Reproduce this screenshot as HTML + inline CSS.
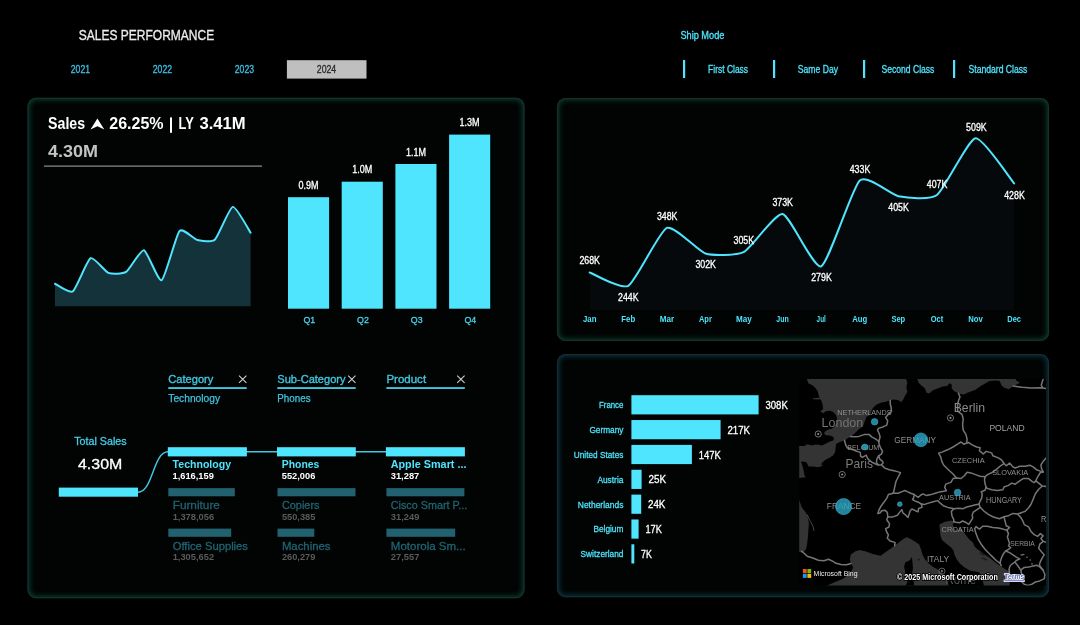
<!DOCTYPE html>
<html lang="en"><head><meta charset="utf-8"><title>Sales Performance</title>
<style>
html,body{margin:0;padding:0;background:#000;}
body{width:1080px;height:625px;position:relative;overflow:hidden;font-family:"Liberation Sans", sans-serif;}
svg{position:absolute;left:0;top:0;will-change:transform;}
svg text{font-family:"Liberation Sans", sans-serif;}
</style></head><body>
<svg width="1080" height="625" viewBox="0 0 1080 625">
<defs><filter id="gl" x="-5%" y="-5%" width="110%" height="110%"><feGaussianBlur stdDeviation="2.4"/></filter>
<clipPath id="cp1"><rect x="27.5" y="97.8" width="497" height="500.4" rx="8.5"/></clipPath>
<clipPath id="cp2"><rect x="557" y="98" width="492" height="243" rx="8.5"/></clipPath>
<clipPath id="cp3"><rect x="557" y="354" width="492" height="243.2" rx="8.5"/></clipPath>
</defs>
<g id="p1"><rect x="27.5" y="97.8" width="497" height="500.4" rx="8.5" fill="#010403"/>
<g clip-path="url(#cp1)"><rect x="27.5" y="97.8" width="497" height="500.4" rx="8.5" fill="none" stroke="#10382f" stroke-width="5" filter="url(#gl)"/></g>
<rect x="28.0" y="98.3" width="496" height="499.4" rx="8" fill="none" stroke="#11372f" stroke-width="1.2" stroke-opacity="0.75"/></g>
<g id="p2"><rect x="557" y="98" width="492" height="243" rx="8.5" fill="#010403"/>
<g clip-path="url(#cp2)"><rect x="557" y="98" width="492" height="243" rx="8.5" fill="none" stroke="#10382f" stroke-width="5" filter="url(#gl)"/></g>
<rect x="557.5" y="98.5" width="491" height="242" rx="8" fill="none" stroke="#11372f" stroke-width="1.2" stroke-opacity="0.75"/></g>
<g id="p3"><rect x="557" y="354" width="492" height="243.2" rx="8.5" fill="#010403"/>
<g clip-path="url(#cp3)"><rect x="557" y="354" width="492" height="243.2" rx="8.5" fill="none" stroke="#0e333c" stroke-width="5" filter="url(#gl)"/></g>
<rect x="557.5" y="354.5" width="491" height="242.2" rx="8" fill="none" stroke="#0f343d" stroke-width="1.2" stroke-opacity="0.75"/></g>
<g id="header">
<text x="78.8" y="40" font-size="14.2" fill="#ececec" textLength="135.4" lengthAdjust="spacingAndGlyphs" stroke="#ececec" stroke-width="0.3">SALES PERFORMANCE</text>
<text x="70.8" y="72.8" font-size="10.4" fill="#3cc2e6" textLength="19.2" lengthAdjust="spacingAndGlyphs" stroke="#3cc2e6" stroke-width="0.3">2021</text>
<text x="152.8" y="72.8" font-size="10.4" fill="#3cc2e6" textLength="19.2" lengthAdjust="spacingAndGlyphs" stroke="#3cc2e6" stroke-width="0.3">2022</text>
<text x="234.8" y="72.8" font-size="10.4" fill="#3cc2e6" textLength="19.2" lengthAdjust="spacingAndGlyphs" stroke="#3cc2e6" stroke-width="0.3">2023</text>
<rect x="286.90" y="60.20" width="79.60" height="18.40" fill="#bfbfbf"/>
<text x="316.8" y="72.8" font-size="10.4" fill="#2a2a2a" textLength="19.4" lengthAdjust="spacingAndGlyphs" stroke="#2a2a2a" stroke-width="0.3">2024</text>
<text x="680.4" y="38.8" font-size="10.2" fill="#4fe5ff" textLength="44" lengthAdjust="spacingAndGlyphs" stroke="#4fe5ff" stroke-width="0.3">Ship Mode</text>
<rect x="683.00" y="60.00" width="2.20" height="18.00" fill="#4fe5ff"/>
<text x="708.1" y="72.7" font-size="10.2" fill="#4fe5ff" textLength="40" lengthAdjust="spacingAndGlyphs" stroke="#4fe5ff" stroke-width="0.3">First Class</text>
<rect x="773.00" y="60.00" width="2.20" height="18.00" fill="#4fe5ff"/>
<text x="797.8" y="72.7" font-size="10.2" fill="#4fe5ff" textLength="40.3" lengthAdjust="spacingAndGlyphs" stroke="#4fe5ff" stroke-width="0.3">Same Day</text>
<rect x="863.00" y="60.00" width="2.20" height="18.00" fill="#4fe5ff"/>
<text x="881.5" y="72.7" font-size="10.2" fill="#4fe5ff" textLength="52.9" lengthAdjust="spacingAndGlyphs" stroke="#4fe5ff" stroke-width="0.3">Second Class</text>
<rect x="953.00" y="60.00" width="2.20" height="18.00" fill="#4fe5ff"/>
<text x="968.5" y="72.7" font-size="10.2" fill="#4fe5ff" textLength="58.9" lengthAdjust="spacingAndGlyphs" stroke="#4fe5ff" stroke-width="0.3">Standard Class</text>
</g>
<g id="kpi">
<text x="48.1" y="129.3" font-size="16.2" fill="#fff" font-weight="bold" textLength="37" lengthAdjust="spacingAndGlyphs">Sales</text>
<path d="M97.4,118.6 L104.3,129.4 L97.4,126.2 L90.5,129.4 Z" fill="#fff"/>
<text x="109.3" y="129.3" font-size="16.2" fill="#fff" font-weight="bold" textLength="54.3" lengthAdjust="spacingAndGlyphs">26.25%</text>
<rect x="170.00" y="117.40" width="2.00" height="15.40" fill="#fff"/>
<text x="178.5" y="129.3" font-size="16.2" fill="#fff" font-weight="bold" textLength="15.3" lengthAdjust="spacingAndGlyphs">LY</text>
<text x="199.5" y="129.3" font-size="16.2" fill="#fff" font-weight="bold" textLength="46.2" lengthAdjust="spacingAndGlyphs">3.41M</text>
<text x="48.1" y="156.6" font-size="16.6" fill="#c4c4c4" font-weight="bold" textLength="50" lengthAdjust="spacingAndGlyphs">4.30M</text>
<rect x="44.00" y="165.50" width="218.00" height="1.20" fill="#8f8f8f"/>
<path d="M55.00,283.73C56.69,284.46 69.40,293.81 72.78,291.39C76.16,288.96 87.18,259.98 90.56,258.22C93.94,256.47 104.96,271.59 108.34,272.89C111.72,274.19 122.74,274.09 126.12,271.94C129.50,269.78 140.52,249.46 143.90,250.25C147.28,251.04 158.30,282.04 161.68,280.23C165.06,278.41 176.08,234.93 179.46,231.12C182.84,227.30 193.86,239.26 197.24,240.05C200.62,240.83 211.64,242.56 215.02,239.41C218.40,236.26 229.42,207.52 232.80,206.88C236.18,206.24 248.89,230.26 250.58,232.71 L250.58,306.2 L55.00,306.2 Z" fill="#14323a"/>
<path d="M55.00,283.73C56.69,284.46 69.40,293.81 72.78,291.39C76.16,288.96 87.18,259.98 90.56,258.22C93.94,256.47 104.96,271.59 108.34,272.89C111.72,274.19 122.74,274.09 126.12,271.94C129.50,269.78 140.52,249.46 143.90,250.25C147.28,251.04 158.30,282.04 161.68,280.23C165.06,278.41 176.08,234.93 179.46,231.12C182.84,227.30 193.86,239.26 197.24,240.05C200.62,240.83 211.64,242.56 215.02,239.41C218.40,236.26 229.42,207.52 232.80,206.88C236.18,206.24 248.89,230.26 250.58,232.71" fill="none" stroke="#4fe5ff" stroke-width="2" stroke-linejoin="round" stroke-linecap="round"/>
</g>
<g id="qbars">
<rect x="288.00" y="197.20" width="41.10" height="111.50" fill="#4fe5ff"/>
<text x="308.5" y="188.79999999999998" font-size="10" fill="#fff" text-anchor="middle" textLength="20" lengthAdjust="spacingAndGlyphs" stroke="#fff" stroke-width="0.3">0.9M</text>
<text x="309.3" y="322.6" font-size="9.6" fill="#48d4ee" text-anchor="middle" textLength="11.8" lengthAdjust="spacingAndGlyphs" stroke="#48d4ee" stroke-width="0.3">Q1</text>
<rect x="341.70" y="181.70" width="41.10" height="127.00" fill="#4fe5ff"/>
<text x="362.2" y="173.29999999999998" font-size="10" fill="#fff" text-anchor="middle" textLength="20" lengthAdjust="spacingAndGlyphs" stroke="#fff" stroke-width="0.3">1.0M</text>
<text x="363.0" y="322.6" font-size="9.6" fill="#48d4ee" text-anchor="middle" textLength="11.8" lengthAdjust="spacingAndGlyphs" stroke="#48d4ee" stroke-width="0.3">Q2</text>
<rect x="395.40" y="164.00" width="41.10" height="144.70" fill="#4fe5ff"/>
<text x="415.9" y="155.6" font-size="10" fill="#fff" text-anchor="middle" textLength="20" lengthAdjust="spacingAndGlyphs" stroke="#fff" stroke-width="0.3">1.1M</text>
<text x="416.7" y="322.6" font-size="9.6" fill="#48d4ee" text-anchor="middle" textLength="11.8" lengthAdjust="spacingAndGlyphs" stroke="#48d4ee" stroke-width="0.3">Q3</text>
<rect x="449.10" y="134.60" width="41.10" height="174.10" fill="#4fe5ff"/>
<text x="469.6" y="126.19999999999999" font-size="10" fill="#fff" text-anchor="middle" textLength="20" lengthAdjust="spacingAndGlyphs" stroke="#fff" stroke-width="0.3">1.3M</text>
<text x="470.40000000000003" y="322.6" font-size="9.6" fill="#48d4ee" text-anchor="middle" textLength="11.8" lengthAdjust="spacingAndGlyphs" stroke="#48d4ee" stroke-width="0.3">Q4</text>
</g>
<g id="tree">
<text x="168.3" y="383.1" font-size="11.4" fill="#41c6e0" textLength="45" lengthAdjust="spacingAndGlyphs" stroke="#41c6e0" stroke-width="0.35">Category</text>
<path d="M239.0,375.7 l7.4,7.2 M246.4,375.7 l-7.4,7.2" stroke="#cfcfcf" stroke-width="1.1" fill="none"/>
<rect x="168.30" y="387.10" width="78.40" height="1.90" fill="#41c6e0"/>
<text x="168.3" y="401.9" font-size="10.5" fill="#41c6e0" textLength="51.7" lengthAdjust="spacingAndGlyphs" stroke="#41c6e0" stroke-width="0.25">Technology</text>
<text x="277.3" y="383.1" font-size="11.4" fill="#41c6e0" textLength="68.2" lengthAdjust="spacingAndGlyphs" stroke="#41c6e0" stroke-width="0.35">Sub-Category</text>
<path d="M348.1,375.7 l7.4,7.2 M355.5,375.7 l-7.4,7.2" stroke="#cfcfcf" stroke-width="1.1" fill="none"/>
<rect x="277.30" y="387.10" width="78.40" height="1.90" fill="#41c6e0"/>
<text x="277.3" y="401.9" font-size="10.5" fill="#41c6e0" textLength="33.3" lengthAdjust="spacingAndGlyphs" stroke="#41c6e0" stroke-width="0.25">Phones</text>
<text x="386.4" y="383.1" font-size="11.4" fill="#41c6e0" textLength="39.7" lengthAdjust="spacingAndGlyphs" stroke="#41c6e0" stroke-width="0.35">Product</text>
<path d="M457.2,375.7 l7.4,7.2 M464.6,375.7 l-7.4,7.2" stroke="#cfcfcf" stroke-width="1.1" fill="none"/>
<rect x="386.40" y="387.10" width="78.40" height="1.90" fill="#41c6e0"/>
<text x="74.2" y="445.2" font-size="11.5" fill="#45cdea" textLength="52.5" lengthAdjust="spacingAndGlyphs" stroke="#45cdea" stroke-width="0.3">Total Sales</text>
<text x="78" y="469.4" font-size="14.5" fill="#fff" textLength="44.3" lengthAdjust="spacingAndGlyphs" stroke="#fff" stroke-width="0.3">4.30M</text>
<rect x="58.80" y="487.60" width="79.20" height="9.10" fill="#4fe5ff"/>
<path d="M138,492.2 C153,492.2 153,451.7 168,451.7 L386,451.7" fill="none" stroke="#41c9e3" stroke-width="1.45"/>
<rect x="167.80" y="447.20" width="79.10" height="9.20" fill="#4fe5ff"/>
<text x="172.60000000000002" y="468.3" font-size="11" fill="#4fe5ff" font-weight="bold" textLength="58.5" lengthAdjust="spacingAndGlyphs">Technology</text>
<text x="172.60000000000002" y="479.2" font-size="8.5" fill="#fff" font-weight="bold" textLength="41.2" lengthAdjust="spacingAndGlyphs">1,616,159</text>
<rect x="168.30" y="488.10" width="66.50" height="8.20" fill="#22616f"/>
<text x="172.70000000000002" y="509.1" font-size="11" fill="#216371" textLength="47.2" lengthAdjust="spacingAndGlyphs" stroke="#216371" stroke-width="0.3">Furniture</text>
<text x="172.70000000000002" y="519.9" font-size="8.5" fill="#5a5a5a" font-weight="bold" textLength="41.4" lengthAdjust="spacingAndGlyphs">1,378,056</text>
<rect x="168.30" y="528.60" width="62.90" height="8.20" fill="#22616f"/>
<text x="172.70000000000002" y="549.6" font-size="11" fill="#216371" textLength="75.3" lengthAdjust="spacingAndGlyphs" stroke="#216371" stroke-width="0.3">Office Supplies</text>
<text x="172.70000000000002" y="560.4" font-size="8.5" fill="#5a5a5a" font-weight="bold" textLength="41.4" lengthAdjust="spacingAndGlyphs">1,305,652</text>
<rect x="277.00" y="447.20" width="78.80" height="9.20" fill="#4fe5ff"/>
<text x="281.8" y="468.3" font-size="11" fill="#4fe5ff" font-weight="bold" textLength="37.6" lengthAdjust="spacingAndGlyphs">Phones</text>
<text x="281.8" y="479.2" font-size="8.5" fill="#fff" font-weight="bold" textLength="33.5" lengthAdjust="spacingAndGlyphs">552,006</text>
<rect x="277.50" y="488.10" width="78.00" height="8.20" fill="#22616f"/>
<text x="281.9" y="509.1" font-size="11" fill="#216371" textLength="37.6" lengthAdjust="spacingAndGlyphs" stroke="#216371" stroke-width="0.3">Copiers</text>
<text x="281.9" y="519.9" font-size="8.5" fill="#5a5a5a" font-weight="bold" textLength="33.5" lengthAdjust="spacingAndGlyphs">550,385</text>
<rect x="277.50" y="528.60" width="36.80" height="8.20" fill="#22616f"/>
<text x="281.9" y="549.6" font-size="11" fill="#216371" textLength="48.6" lengthAdjust="spacingAndGlyphs" stroke="#216371" stroke-width="0.3">Machines</text>
<text x="281.9" y="560.4" font-size="8.5" fill="#5a5a5a" font-weight="bold" textLength="33.5" lengthAdjust="spacingAndGlyphs">260,279</text>
<rect x="385.90" y="447.20" width="79.00" height="9.20" fill="#4fe5ff"/>
<text x="390.7" y="468.3" font-size="11" fill="#4fe5ff" font-weight="bold" textLength="75.8" lengthAdjust="spacingAndGlyphs">Apple Smart ...</text>
<text x="390.7" y="479.2" font-size="8.5" fill="#fff" font-weight="bold" textLength="28.6" lengthAdjust="spacingAndGlyphs">31,287</text>
<rect x="386.40" y="488.10" width="78.00" height="8.20" fill="#22616f"/>
<text x="390.79999999999995" y="509.1" font-size="11" fill="#216371" textLength="76.5" lengthAdjust="spacingAndGlyphs" stroke="#216371" stroke-width="0.3">Cisco Smart P...</text>
<text x="390.79999999999995" y="519.9" font-size="8.5" fill="#5a5a5a" font-weight="bold" textLength="28.6" lengthAdjust="spacingAndGlyphs">31,249</text>
<rect x="386.40" y="528.60" width="68.80" height="8.20" fill="#22616f"/>
<text x="390.79999999999995" y="549.6" font-size="11" fill="#216371" textLength="74.9" lengthAdjust="spacingAndGlyphs" stroke="#216371" stroke-width="0.3">Motorola Sm...</text>
<text x="390.79999999999995" y="560.4" font-size="8.5" fill="#5a5a5a" font-weight="bold" textLength="28.6" lengthAdjust="spacingAndGlyphs">27,557</text>
</g>
<g id="monthly">
<path d="M589.70,272.43C593.37,273.70 620.95,290.02 628.28,285.79C635.61,281.56 659.53,230.97 666.86,227.90C674.19,224.84 698.11,251.23 705.44,253.51C712.77,255.78 736.69,255.59 744.02,251.84C751.35,248.08 775.27,212.61 782.60,213.99C789.93,215.36 813.85,269.48 821.18,266.31C828.51,263.14 852.43,187.25 859.76,180.59C867.09,173.93 891.01,194.80 898.34,196.18C905.67,197.55 929.59,200.56 936.92,195.06C944.25,189.56 968.17,139.40 975.50,138.29C982.83,137.18 1010.41,179.09 1014.08,183.38 L1014.08,310 L589.70,310 Z" fill="#05090b"/>
<path d="M589.70,272.43C593.37,273.70 620.95,290.02 628.28,285.79C635.61,281.56 659.53,230.97 666.86,227.90C674.19,224.84 698.11,251.23 705.44,253.51C712.77,255.78 736.69,255.59 744.02,251.84C751.35,248.08 775.27,212.61 782.60,213.99C789.93,215.36 813.85,269.48 821.18,266.31C828.51,263.14 852.43,187.25 859.76,180.59C867.09,173.93 891.01,194.80 898.34,196.18C905.67,197.55 929.59,200.56 936.92,195.06C944.25,189.56 968.17,139.40 975.50,138.29C982.83,137.18 1010.41,179.09 1014.08,183.38" fill="none" stroke="#4fe5ff" stroke-width="2" stroke-linejoin="round" stroke-linecap="round"/>
<text x="589.7" y="263.6" font-size="10" fill="#fff" text-anchor="middle" textLength="20.6" lengthAdjust="spacingAndGlyphs" stroke="#fff" stroke-width="0.3">268K</text>
<text x="628.3" y="300.6" font-size="10" fill="#fff" text-anchor="middle" textLength="20.6" lengthAdjust="spacingAndGlyphs" stroke="#fff" stroke-width="0.3">244K</text>
<text x="667.2" y="219.8" font-size="10" fill="#fff" text-anchor="middle" textLength="20.6" lengthAdjust="spacingAndGlyphs" stroke="#fff" stroke-width="0.3">348K</text>
<text x="705.7" y="267.7" font-size="10" fill="#fff" text-anchor="middle" textLength="20.6" lengthAdjust="spacingAndGlyphs" stroke="#fff" stroke-width="0.3">302K</text>
<text x="743.8" y="243.6" font-size="10" fill="#fff" text-anchor="middle" textLength="20.6" lengthAdjust="spacingAndGlyphs" stroke="#fff" stroke-width="0.3">305K</text>
<text x="782.7" y="205.9" font-size="10" fill="#fff" text-anchor="middle" textLength="20.6" lengthAdjust="spacingAndGlyphs" stroke="#fff" stroke-width="0.3">373K</text>
<text x="821.5" y="280.8" font-size="10" fill="#fff" text-anchor="middle" textLength="20.6" lengthAdjust="spacingAndGlyphs" stroke="#fff" stroke-width="0.3">279K</text>
<text x="860.0" y="172.6" font-size="10" fill="#fff" text-anchor="middle" textLength="20.6" lengthAdjust="spacingAndGlyphs" stroke="#fff" stroke-width="0.3">433K</text>
<text x="898.6" y="211.2" font-size="10" fill="#fff" text-anchor="middle" textLength="20.6" lengthAdjust="spacingAndGlyphs" stroke="#fff" stroke-width="0.3">405K</text>
<text x="937.1" y="187.8" font-size="10" fill="#fff" text-anchor="middle" textLength="20.6" lengthAdjust="spacingAndGlyphs" stroke="#fff" stroke-width="0.3">407K</text>
<text x="976.4" y="130.5" font-size="10" fill="#fff" text-anchor="middle" textLength="20.6" lengthAdjust="spacingAndGlyphs" stroke="#fff" stroke-width="0.3">509K</text>
<text x="1014.5" y="198.5" font-size="10" fill="#fff" text-anchor="middle" textLength="20.6" lengthAdjust="spacingAndGlyphs" stroke="#fff" stroke-width="0.3">428K</text>
<text x="589.7" y="322" font-size="9" fill="#4fe5ff" font-weight="bold" text-anchor="middle" textLength="13.5" lengthAdjust="spacingAndGlyphs">Jan</text>
<text x="628.3" y="322" font-size="9" fill="#4fe5ff" font-weight="bold" text-anchor="middle" textLength="13.9" lengthAdjust="spacingAndGlyphs">Feb</text>
<text x="666.9" y="322" font-size="9" fill="#4fe5ff" font-weight="bold" text-anchor="middle" textLength="14.3" lengthAdjust="spacingAndGlyphs">Mar</text>
<text x="705.4" y="322" font-size="9" fill="#4fe5ff" font-weight="bold" text-anchor="middle" textLength="12.9" lengthAdjust="spacingAndGlyphs">Apr</text>
<text x="744.0" y="322" font-size="9" fill="#4fe5ff" font-weight="bold" text-anchor="middle" textLength="15.8" lengthAdjust="spacingAndGlyphs">May</text>
<text x="782.6" y="322" font-size="9" fill="#4fe5ff" font-weight="bold" text-anchor="middle" textLength="12.5" lengthAdjust="spacingAndGlyphs">Jun</text>
<text x="821.2" y="322" font-size="9" fill="#4fe5ff" font-weight="bold" text-anchor="middle" textLength="9.2" lengthAdjust="spacingAndGlyphs">Jul</text>
<text x="859.8" y="322" font-size="9" fill="#4fe5ff" font-weight="bold" text-anchor="middle" textLength="15.0" lengthAdjust="spacingAndGlyphs">Aug</text>
<text x="898.3" y="322" font-size="9" fill="#4fe5ff" font-weight="bold" text-anchor="middle" textLength="13.8" lengthAdjust="spacingAndGlyphs">Sep</text>
<text x="936.9" y="322" font-size="9" fill="#4fe5ff" font-weight="bold" text-anchor="middle" textLength="12.5" lengthAdjust="spacingAndGlyphs">Oct</text>
<text x="975.5" y="322" font-size="9" fill="#4fe5ff" font-weight="bold" text-anchor="middle" textLength="14.6" lengthAdjust="spacingAndGlyphs">Nov</text>
<text x="1014.1" y="322" font-size="9" fill="#4fe5ff" font-weight="bold" text-anchor="middle" textLength="13.6" lengthAdjust="spacingAndGlyphs">Dec</text>
</g>
<g id="country">
<rect x="631.40" y="395.20" width="127.20" height="19.20" fill="#4fe5ff"/>
<text x="623.4" y="408.1" font-size="9.5" fill="#4fe5ff" text-anchor="end" textLength="24.4" lengthAdjust="spacingAndGlyphs" stroke="#4fe5ff" stroke-width="0.3">France</text>
<text x="765.4" y="408.8" font-size="11" fill="#fff" textLength="22.4" lengthAdjust="spacingAndGlyphs" stroke="#fff" stroke-width="0.3">308K</text>
<rect x="631.40" y="420.05" width="89.20" height="19.20" fill="#4fe5ff"/>
<text x="623.4" y="432.9" font-size="9.5" fill="#4fe5ff" text-anchor="end" textLength="34" lengthAdjust="spacingAndGlyphs" stroke="#4fe5ff" stroke-width="0.3">Germany</text>
<text x="727.4" y="433.7" font-size="11" fill="#fff" textLength="22.6" lengthAdjust="spacingAndGlyphs" stroke="#fff" stroke-width="0.3">217K</text>
<rect x="631.40" y="444.90" width="60.50" height="19.20" fill="#4fe5ff"/>
<text x="623.4" y="457.8" font-size="9.5" fill="#4fe5ff" text-anchor="end" textLength="49.6" lengthAdjust="spacingAndGlyphs" stroke="#4fe5ff" stroke-width="0.3">United States</text>
<text x="698.7" y="458.5" font-size="11" fill="#fff" textLength="22.2" lengthAdjust="spacingAndGlyphs" stroke="#fff" stroke-width="0.3">147K</text>
<rect x="631.40" y="469.75" width="10.20" height="19.20" fill="#4fe5ff"/>
<text x="623.4" y="482.6" font-size="9.5" fill="#4fe5ff" text-anchor="end" textLength="26" lengthAdjust="spacingAndGlyphs" stroke="#4fe5ff" stroke-width="0.3">Austria</text>
<text x="648.4" y="483.4" font-size="11" fill="#fff" textLength="17.6" lengthAdjust="spacingAndGlyphs" stroke="#fff" stroke-width="0.3">25K</text>
<rect x="631.40" y="494.60" width="9.80" height="19.20" fill="#4fe5ff"/>
<text x="623.4" y="507.5" font-size="9.5" fill="#4fe5ff" text-anchor="end" textLength="45.6" lengthAdjust="spacingAndGlyphs" stroke="#4fe5ff" stroke-width="0.3">Netherlands</text>
<text x="648.0" y="508.2" font-size="11" fill="#fff" textLength="17.4" lengthAdjust="spacingAndGlyphs" stroke="#fff" stroke-width="0.3">24K</text>
<rect x="631.40" y="519.45" width="7.20" height="19.20" fill="#4fe5ff"/>
<text x="623.4" y="532.4" font-size="9.5" fill="#4fe5ff" text-anchor="end" textLength="30" lengthAdjust="spacingAndGlyphs" stroke="#4fe5ff" stroke-width="0.3">Belgium</text>
<text x="645.4" y="533.1" font-size="11" fill="#fff" textLength="16.4" lengthAdjust="spacingAndGlyphs" stroke="#fff" stroke-width="0.3">17K</text>
<rect x="631.40" y="544.30" width="2.90" height="19.20" fill="#4fe5ff"/>
<text x="623.4" y="557.2" font-size="9.5" fill="#4fe5ff" text-anchor="end" textLength="42.8" lengthAdjust="spacingAndGlyphs" stroke="#4fe5ff" stroke-width="0.3">Switzerland</text>
<text x="641.1" y="557.9" font-size="11" fill="#fff" textLength="10.8" lengthAdjust="spacingAndGlyphs" stroke="#fff" stroke-width="0.3">7K</text>
</g>
<g id="map">
<clipPath id="mapclip"><rect x="799.2" y="379.0" width="246.79999999999995" height="206.39999999999998"/></clipPath>
<g clip-path="url(#mapclip)">
<rect x="799.2" y="379.0" width="246.79999999999995" height="206.39999999999998" fill="#000"/>
<path d="M806.6,378.0 L808.3,383.3 L812.8,385.5 L815.6,388.3 L817.8,391.7 L818.4,394.5 L819.6,397.8 L813.0,398.2 L813.0,399.2 L820.9,399.6 L822.3,403.4 L823.2,408.8 L820.4,411.6 L823.2,413.2 L826.0,411.2 L830.0,410.8 L833.2,412.0 L835.6,414.4 L836.8,417.6 L836.8,420.8 L835.6,424.0 L834.0,427.2 L831.6,428.8 L828.4,429.6 L825.2,431.2 L824.0,433.6 L826.0,435.2 L830.0,435.6 L832.8,436.8 L834.2,438.4 L833.2,440.4 L830.0,441.6 L826.0,443.6 L822.0,445.6 L818.8,444.8 L814.8,444.4 L812.4,445.6 L810.0,444.8 L806.0,444.4 L805.2,446.0 L798.0,446.0 L798.0,478.0 L806.0,477.2 L804.4,475.2 L804.0,472.0 L803.2,468.8 L802.4,465.6 L801.0,461.8 L802.0,461.6 L806.0,462.0 L807.2,463.6 L808.4,466.4 L813.2,466.4 L818.0,467.2 L822.4,466.0 L821.2,464.0 L823.6,461.2 L826.0,459.6 L830.0,457.6 L833.2,455.2 L835.2,452.0 L835.6,448.0 L836.0,444.0 L838.8,442.4 L844.5,440.3 L850.5,436.6 L854.6,433.5 L858.6,429.6 L863.1,425.9 L865.2,420.0 L866.5,416.8 L869.9,414.9 L872.4,409.0 L874.1,406.4 L877.5,403.9 L881.8,402.6 L886.0,401.7 L889.4,400.5 L893.4,399.5 L897.9,400.1 L901.3,402.3 L903.5,399.0 L905.2,395.6 L907.4,391.7 L906.3,387.2 L907.4,382.7 L905.8,378.0 Z" fill="#343434"/>
<path d="M917.0,378.0 L918.6,382.7 L922.0,386.1 L924.8,388.3 L926.5,392.8 L929.3,393.4 L932.6,390.6 L938.2,388.3 L942.7,386.6 L947.2,386.1 L949.4,383.3 L951.7,384.4 L951.7,388.3 L953.9,391.1 L957.3,392.8 L960.6,393.9 L964.0,394.5 L967.4,392.8 L975.2,390.0 L980.8,386.1 L986.4,382.7 L989.8,381.0 L995.4,380.5 L999.8,381.0 L1001.5,385.5 L1004.3,387.8 L1008.8,389.2 L1012.7,386.6 L1015.5,385.0 L1020.0,382.7 L1016.1,380.5 L1015.5,378.0 Z" fill="#343434"/>
<path d="M798.0,499.0 L799.4,500.4 L801.6,507.1 L805.0,511.6 L807.2,515.0 L808.9,522.8 L808.3,531.8 L807.6,540.0 L806.8,546.0 L805.8,549.5 L803.6,552.0 L801.2,552.2 L798.0,552.0 Z" fill="#343434"/>
<path d="M807.2,515.0 L810.6,521.7 L813.4,527.3 L813.9,530.6" fill="none" stroke="#555" stroke-width="0.8" stroke-linejoin="round" stroke-linecap="round"/>
<path d="M826.2,586.0 L835.2,582.1 L843.0,578.7 L848.6,574.8 L852.0,570.3 L853.1,567.0 L850.9,563.6 L849.8,559.1 L850.9,554.6 L855.4,551.3 L859.8,549.9 L863.2,550.7 L866.0,551.6 L872.7,554.1 L880.6,555.8 L885.0,552.4 L890.1,549.0 L894.6,545.7 L899.6,541.8 L904.1,538.4 L906.9,537.3 L910.8,539.0 L915.3,541.8 L919.2,544.6 L920.9,549.0 L922.5,554.6 L924.8,559.1 L928.7,563.6 L933.2,567.0 L937.7,569.2 L939.9,571.4 L944.4,574.8 L946.6,579.3 L948.9,586.0 Z" fill="#343434"/>
<path d="M911.9,556.9 L909.7,560.2 L905.2,562.5 L904.1,567.0 L905.2,571.4 L904.6,575.9 L906.9,579.3 L907.4,582.6 L905.2,586.0 L914.2,586.0 L913.6,580.4 L911.9,574.8 L913.0,568.1 L912.5,562.5 Z" fill="#000"/>
<circle cx="918.6" cy="559.7" r="0.9" fill="#111"/>
<path d="M939.4,524.6 L945.0,521.8 L951.7,520.6 L953.9,521.8 L952.8,525.1 L955.0,529.6 L958.4,530.7 L960.1,526.8 L964.0,532.4 L967.4,536.9 L969.6,539.7 L973.0,542.5 L974.6,546.4 L977.4,549.2 L980.8,551.4 L984.2,554.2 L988.6,557.0 L992.0,559.8 L996.5,563.2 L1001.0,566.6 L1005.4,569.2 L1008.6,571.2 L1009.6,573.5 L1009.6,586.0 L984.0,586.0 L982.5,580.0 L980.8,575.0 L979.1,572.2 L975.2,571.6 L969.6,570.5 L964.0,567.1 L960.1,563.8 L956.7,559.3 L954.5,554.8 L953.4,550.3 L950.6,547.0 L946.1,543.6 L942.2,540.2 L940.5,535.8 L939.9,530.2 Z" fill="#343434"/>
<path d="M979.5,551.5 l5,3 l0.6,1.6 l-4.6,-1.6 z M982,557 l5.4,2.6 l-0.8,1.2 l-5,-2.2 z" fill="#1c1c1c"/>
<path d="M890.2,400.4 L890.2,403.9 L891.1,407.3 L891.5,411.5 L887.7,414.9 L885.6,417.4 L887.7,420.8 L886.8,425.1 L883.5,426.7 L878.4,428.4 L877.5,430.1 L879.2,433.5 L880.1,436.9 L879.2,440.3 L878.8,442.8 L879.2,444.6 L880.9,448.5 L882.6,451.3 L881.4,454.1 L878.6,455.8" fill="none" stroke="#767676" stroke-width="1.5" stroke-linejoin="round" stroke-linecap="round"/>
<path d="M850.5,436.6 L854.6,436.8 L858.9,436.4 L864.0,434.6 L869.1,434.4 L871.6,436.9 L875.0,438.6 L877.5,440.3 L878.8,441.6" fill="none" stroke="#767676" stroke-width="1.5" stroke-linejoin="round" stroke-linecap="round"/>
<path d="M844.5,440.3 L845.6,444.6 L847.3,447.9 L852.3,449.6 L856.8,451.3 L860.2,452.4 L860.7,456.3 L862.4,457.4 L866.3,455.2 L867.4,458.0 L869.1,460.2 L872.5,462.5 L875.8,464.2 L878.1,464.9" fill="none" stroke="#767676" stroke-width="1.5" stroke-linejoin="round" stroke-linecap="round"/>
<path d="M878.6,455.8 L877.0,458.6 L876.4,462.5 L878.1,464.9 L881.4,464.7 L883.1,463.0 L882.6,461.4 L879.8,459.1 L878.6,455.8" fill="none" stroke="#767676" stroke-width="1.5" stroke-linejoin="round" stroke-linecap="round"/>
<path d="M881.4,464.7 L884.8,468.1 L889.3,469.8 L894.9,470.9 L900.5,472.6 L898.2,477.0 L896.0,481.5 L894.9,486.0 L893.8,491.6 L893.2,493.3" fill="none" stroke="#767676" stroke-width="1.5" stroke-linejoin="round" stroke-linecap="round"/>
<path d="M893.2,493.3 L898.2,493.2 L902.7,491.4 L904.9,490.5 L907.2,491.6 L910.8,493.2 L914.2,494.5 L913.6,497.8 L912.5,499.5 L915.3,501.2 L918.6,502.3 L921.4,504.0" fill="none" stroke="#767676" stroke-width="1.5" stroke-linejoin="round" stroke-linecap="round"/>
<path d="M893.2,493.3 L888.4,494.5 L886.7,498.4 L883.9,502.3 L880.6,506.8 L878.9,510.2 L877.8,513.5 L880.0,513.0 L881.7,510.7 L885.0,510.2 L887.3,512.4 L887.8,516.9" fill="none" stroke="#767676" stroke-width="1.5" stroke-linejoin="round" stroke-linecap="round"/>
<path d="M887.8,516.9 L892.9,516.9 L897.4,515.2 L899.6,512.4 L901.8,509.6 L903.0,513.0 L905.8,515.2 L908.0,517.4 L909.1,514.1 L910.2,510.7 L911.9,509.0 L915.3,510.7 L918.1,511.8 L918.6,508.5 L922.0,507.4 L921.4,504.0" fill="none" stroke="#767676" stroke-width="1.5" stroke-linejoin="round" stroke-linecap="round"/>
<path d="M921.4,504.0 L924.2,504.6 L927.6,503.4 L933.2,501.8 L937.7,500.6 L939.9,502.9 L943.3,505.7 L947.8,507.4 L952.0,508.2 L953.7,508.7" fill="none" stroke="#767676" stroke-width="1.5" stroke-linejoin="round" stroke-linecap="round"/>
<path d="M914.2,494.5 L918.1,497.3 L920.9,495.0 L923.1,493.9 L926.5,495.6 L931.0,494.6 L935.4,493.2 L939.7,491.9 L946.4,490.8 L944.7,487.4 L945.8,484.1 L950.9,482.4 L953.1,478.5 L956.5,477.9" fill="none" stroke="#767676" stroke-width="1.5" stroke-linejoin="round" stroke-linecap="round"/>
<path d="M887.8,516.9 L886.7,519.7 L889.5,523.6 L889.0,527.0 L885.6,528.6 L886.7,532.0 L888.4,534.8 L887.3,538.2 L890.1,541.0 L894.0,542.1 L895.1,542.6 L894.6,545.7" fill="none" stroke="#767676" stroke-width="1.5" stroke-linejoin="round" stroke-linecap="round"/>
<path d="M801.6,551.3 L804.4,553.5 L807.2,556.3 L812.8,558.0 L818.4,560.2 L824.0,560.8 L828.5,559.3 L833.0,561.4 L835.2,563.0 L840.8,564.5 L846.4,564.7 L850.9,563.6" fill="none" stroke="#767676" stroke-width="1.5" stroke-linejoin="round" stroke-linecap="round"/>
<path d="M958.4,393.3 L960.0,397.0 L958.7,400.0 L957.6,404.5 L957.6,411.2 L962.1,414.6 L963.2,419.0 L962.6,424.6 L963.2,430.2 L966.0,434.7 L967.1,439.2 L966.6,443.1" fill="none" stroke="#767676" stroke-width="1.5" stroke-linejoin="round" stroke-linecap="round"/>
<path d="M966.6,443.1 L963.8,444.2 L961.0,442.0 L957.6,444.2 L953.1,447.0 L947.5,449.8 L941.9,452.1 L938.6,453.2 L940.8,457.1 L941.9,461.6 L943.6,465.0 L948.1,469.5 L953.1,474.0 L956.5,477.9" fill="none" stroke="#767676" stroke-width="1.5" stroke-linejoin="round" stroke-linecap="round"/>
<path d="M966.6,443.1 L968.8,442.6 L972.2,444.8 L976.6,447.0 L980.2,447.8 L979.4,450.6 L983.3,454.0 L986.1,451.4 L991.7,452.9 L992.8,455.7 L998.4,457.9 L1001.8,460.2 L1004.0,463.5" fill="none" stroke="#767676" stroke-width="1.5" stroke-linejoin="round" stroke-linecap="round"/>
<path d="M956.5,477.9 L961.0,478.5 L964.3,475.7 L967.1,472.3 L971.0,472.9 L975.5,474.6 L980.0,476.2 L985.0,476.8" fill="none" stroke="#767676" stroke-width="1.5" stroke-linejoin="round" stroke-linecap="round"/>
<path d="M985.0,476.8 L987.6,474.6 L992.6,472.2 L997.3,468.6 L1000.6,465.8 L1004.0,463.5" fill="none" stroke="#767676" stroke-width="1.5" stroke-linejoin="round" stroke-linecap="round"/>
<path d="M1004.0,463.5 L1006.2,465.8 L1009.6,463.0 L1013.0,466.9 L1015.2,468.0 L1019.7,466.3 L1025.3,466.3 L1029.8,465.2 L1033.1,466.9 L1036.5,469.7 L1041.0,471.4 L1043.2,471.9" fill="none" stroke="#767676" stroke-width="1.5" stroke-linejoin="round" stroke-linecap="round"/>
<path d="M1043.2,471.9 L1041.5,468.6 L1041.0,464.6 L1043.2,461.3 L1047.0,456.9" fill="none" stroke="#767676" stroke-width="1.5" stroke-linejoin="round" stroke-linecap="round"/>
<path d="M1043.2,471.9 L1040.4,472.5 L1038.2,476.0 L1036.5,479.2 L1035.9,480.9" fill="none" stroke="#767676" stroke-width="1.5" stroke-linejoin="round" stroke-linecap="round"/>
<path d="M986.2,487.4 L987.2,488.4 L991.7,489.8 L997.3,490.4 L1002.9,489.8 L1004.0,487.0 L1008.5,485.4 L1011.8,483.1 L1015.2,484.2 L1019.7,480.9 L1023.0,478.6 L1028.6,478.6 L1032.0,481.4 L1034.2,482.6 L1035.9,480.9" fill="none" stroke="#767676" stroke-width="1.5" stroke-linejoin="round" stroke-linecap="round"/>
<path d="M986.2,487.4 L985.0,483.5 L984.5,480.2 L985.0,476.8" fill="none" stroke="#767676" stroke-width="1.5" stroke-linejoin="round" stroke-linecap="round"/>
<path d="M1035.9,480.9 L1038.7,483.1 L1042.1,485.9 L1047.0,486.5" fill="none" stroke="#767676" stroke-width="1.5" stroke-linejoin="round" stroke-linecap="round"/>
<path d="M1042.1,486.2 L1038.7,489.3 L1035.4,493.8 L1033.1,499.4 L1030.9,504.5 L1028.6,507.8 L1025.3,511.2 L1020.8,512.9" fill="none" stroke="#767676" stroke-width="1.5" stroke-linejoin="round" stroke-linecap="round"/>
<path d="M986.2,487.4 L985.0,490.2 L981.1,491.9 L982.2,493.6 L981.7,498.1 L980.0,501.4 L978.9,504.2" fill="none" stroke="#767676" stroke-width="1.5" stroke-linejoin="round" stroke-linecap="round"/>
<path d="M953.7,508.7 L958.7,508.2 L963.2,508.7 L966.6,507.0 L971.0,505.9 L975.5,504.8 L978.9,504.2" fill="none" stroke="#767676" stroke-width="1.5" stroke-linejoin="round" stroke-linecap="round"/>
<path d="M978.9,504.2 L980.0,507.0 L983.8,511.0 L988.3,514.4 L993.4,517.0 L999.5,518.8 L1004.0,516.8" fill="none" stroke="#767676" stroke-width="1.5" stroke-linejoin="round" stroke-linecap="round"/>
<path d="M980.0,507.6 L976.6,509.8 L973.3,512.1 L972.2,514.9 L972.7,518.2 L970.5,521.6 L968.8,524.4 L965.4,522.2 L962.6,521.0 L959.8,522.7 L955.9,522.2 L953.9,521.8" fill="none" stroke="#767676" stroke-width="1.5" stroke-linejoin="round" stroke-linecap="round"/>
<path d="M953.7,508.7 L951.4,511.5 L952.0,516.0 L953.7,519.4 L953.9,521.8" fill="none" stroke="#767676" stroke-width="1.5" stroke-linejoin="round" stroke-linecap="round"/>
<path d="M1004.0,516.8 L1008.5,515.7 L1013.0,513.4 L1017.4,514.0 L1020.8,512.9" fill="none" stroke="#767676" stroke-width="1.5" stroke-linejoin="round" stroke-linecap="round"/>
<path d="M1017.4,514.0 L1020.8,517.4 L1023.0,521.3 L1024.2,524.6 L1028.6,526.9 L1030.9,531.4 L1034.2,534.7 L1037.6,536.4 L1040.4,533.6 L1043.2,535.8 L1040.9,538.6 L1043.2,541.4 L1047.0,542.6" fill="none" stroke="#767676" stroke-width="1.5" stroke-linejoin="round" stroke-linecap="round"/>
<path d="M1004.0,516.8 L1005.1,521.3 L1006.2,525.8 L1009.6,527.4 L1006.8,530.2" fill="none" stroke="#767676" stroke-width="1.5" stroke-linejoin="round" stroke-linecap="round"/>
<path d="M974.6,528.6 L976.0,526.6 L979.4,529.1 L982.7,526.3 L987.2,526.3 L992.8,527.4 L998.4,528.0 L1002.9,529.1 L1006.8,530.2" fill="none" stroke="#767676" stroke-width="1.5" stroke-linejoin="round" stroke-linecap="round"/>
<path d="M1006.8,530.2 L1008.5,533.6 L1007.4,537.0 L1008.5,540.3 L1009.6,543.7 L1008.5,545.9 L1010.7,547.6 L1008.5,549.3 L1005.7,551.0" fill="none" stroke="#767676" stroke-width="1.5" stroke-linejoin="round" stroke-linecap="round"/>
<path d="M1005.7,551.0 L1003.4,553.8 L1001.8,557.1 L1000.6,560.5 L1000.1,563.3" fill="none" stroke="#767676" stroke-width="1.5" stroke-linejoin="round" stroke-linecap="round"/>
<path d="M974.6,528.6 L976.0,533.6 L978.2,539.2 L981.6,544.8 L985.0,549.3 L989.4,553.8 L992.8,557.1 L996.2,560.5 L1000.1,563.3 L1001.2,565.6" fill="none" stroke="#767676" stroke-width="1.5" stroke-linejoin="round" stroke-linecap="round"/>
<path d="M1005.7,551.0 L1009.6,552.6 L1013.0,554.9 L1016.3,557.1 L1019.7,558.8" fill="none" stroke="#767676" stroke-width="1.5" stroke-linejoin="round" stroke-linecap="round"/>
<path d="M1019.7,558.8 L1016.3,560.5 L1014.1,562.7 L1010.7,565.0 L1009.6,567.2 L1009.0,570.0 L1009.6,573.0" fill="none" stroke="#767676" stroke-width="1.5" stroke-linejoin="round" stroke-linecap="round"/>
<path d="M1043.2,541.4 L1039.8,544.2 L1038.7,548.2 L1042.1,552.6 L1044.3,554.9 L1042.1,558.2 L1040.4,561.6 L1039.3,565.0 L1040.9,567.2 L1043.2,570.2" fill="none" stroke="#767676" stroke-width="1.5" stroke-linejoin="round" stroke-linecap="round"/>
<path d="M1020.8,570.2 L1024.2,567.4 L1028.6,566.9 L1032.0,566.3 L1036.5,565.2 L1039.8,566.9 L1043.2,570.2 L1044.9,574.7 L1044.3,578.6 L1039.8,580.9 L1035.4,582.0 L1032.0,584.2 L1027.5,585.4 L1024.2,584.2 L1022.0,582.0 L1020.8,579.8 L1021.9,574.7 L1020.8,570.2" fill="none" stroke="#767676" stroke-width="1.5" stroke-linejoin="round" stroke-linecap="round"/>
<path d="M1015.2,562.4 L1018.0,566.0 L1020.8,570.2" fill="none" stroke="#767676" stroke-width="1.5" stroke-linejoin="round" stroke-linecap="round"/>
<path d="M1013.3,386.1 L1022.2,387.2 L1031.2,388.1 L1042.4,387.8 L1047.0,388.8" fill="none" stroke="#767676" stroke-width="1.5" stroke-linejoin="round" stroke-linecap="round"/>
<path d="M1043.5,378.0 L1041.3,385.0 L1042.4,387.6" fill="none" stroke="#767676" stroke-width="1.5" stroke-linejoin="round" stroke-linecap="round"/>
<path d="M1020.6,555.2 L1024.4,554.4" stroke="#767676" stroke-width="1.2" fill="none"/>
<circle cx="1027" cy="557.3" r="0.8" fill="#767676"/>
<circle cx="1030.2" cy="560" r="0.8" fill="#767676"/>
<circle cx="1032" cy="563.9" r="0.8" fill="#767676"/>
<circle cx="818.2" cy="434.0" r="3.1" fill="none" stroke="#8a8a8a" stroke-width="0.8"/><circle cx="818.2" cy="434.0" r="1.1" fill="#8a8a8a"/>
<circle cx="842.2" cy="474.5" r="3.1" fill="none" stroke="#8a8a8a" stroke-width="0.8"/><circle cx="842.2" cy="474.5" r="1.1" fill="#8a8a8a"/>
<circle cx="950.5" cy="417.9" r="3.1" fill="none" stroke="#8a8a8a" stroke-width="0.8"/><circle cx="950.5" cy="417.9" r="1.1" fill="#8a8a8a"/>
<circle cx="941.9" cy="571.2" r="3.1" fill="none" stroke="#777" stroke-width="0.8"/><circle cx="941.9" cy="571.2" r="1.1" fill="#777"/>
<text x="821.6" y="427.2" font-size="12.8" fill="#727272" textLength="41.6" lengthAdjust="spacingAndGlyphs">London</text>
<text x="845.6" y="468.1" font-size="12.8" fill="#7c7c7c" textLength="27.4" lengthAdjust="spacingAndGlyphs">Paris</text>
<text x="953.7" y="411.6" font-size="12.8" fill="#8a8a8a" textLength="31.3" lengthAdjust="spacingAndGlyphs">Berlin</text>
<text x="945.6" y="583.6" font-size="12.6" fill="#5a5a5a" textLength="30.4" lengthAdjust="spacingAndGlyphs">Rome</text>
<text x="837.3" y="414.9" font-size="7.6" fill="#909090" textLength="54.2" lengthAdjust="spacingAndGlyphs">NETHERLANDS</text>
<text x="847.3" y="449.6" font-size="7.6" fill="#909090" textLength="32" lengthAdjust="spacingAndGlyphs">BELGIUM</text>
<text x="894.3" y="443.1" font-size="8.6" fill="#909090" textLength="41.6" lengthAdjust="spacingAndGlyphs">GERMANY</text>
<text x="989.4" y="431.4" font-size="8.6" fill="#a0a0a0" textLength="35.2" lengthAdjust="spacingAndGlyphs">POLAND</text>
<text x="952" y="463.3" font-size="7.8" fill="#909090" textLength="32.6" lengthAdjust="spacingAndGlyphs">CZECHIA</text>
<text x="992.2" y="475.3" font-size="7.8" fill="#909090" textLength="36" lengthAdjust="spacingAndGlyphs">SLOVAKIA</text>
<text x="939.1" y="499.8" font-size="7.8" fill="#909090" textLength="31.4" lengthAdjust="spacingAndGlyphs">AUSTRIA</text>
<text x="986.1" y="502.8" font-size="8.2" fill="#909090" textLength="35.8" lengthAdjust="spacingAndGlyphs">HUNGARY</text>
<text x="941.6" y="531.8" font-size="7.8" fill="#909090" textLength="32" lengthAdjust="spacingAndGlyphs">CROATIA</text>
<text x="1010.2" y="545.9" font-size="7.8" fill="#909090" textLength="24.6" lengthAdjust="spacingAndGlyphs">SERBIA</text>
<text x="826.8" y="508.8" font-size="8.6" fill="#909090" textLength="34.2" lengthAdjust="spacingAndGlyphs">FRANCE</text>
<text x="927" y="561.6" font-size="8.8" fill="#909090" textLength="22" lengthAdjust="spacingAndGlyphs">ITALY</text>
<text x="1041" y="522.4" font-size="8.6" fill="#909090" textLength="5.4" lengthAdjust="spacingAndGlyphs">R</text>
<circle cx="843.6" cy="506.6" r="8.1" fill="#2ba6c4" fill-opacity="0.8" stroke="#3fb9d6" stroke-opacity="0.7" stroke-width="0.7"/>
<circle cx="920.9" cy="439.8" r="6.9" fill="#2ba6c4" fill-opacity="0.8" stroke="#3fb9d6" stroke-opacity="0.7" stroke-width="0.7"/>
<circle cx="874.6" cy="421.8" r="3.3" fill="#2ba6c4" fill-opacity="0.8" stroke="#3fb9d6" stroke-opacity="0.7" stroke-width="0.7"/>
<circle cx="864.9" cy="447.0" r="3.0" fill="#2ba6c4" fill-opacity="0.8" stroke="#3fb9d6" stroke-opacity="0.7" stroke-width="0.7"/>
<circle cx="957.6" cy="492.5" r="3.3" fill="#2ba6c4" fill-opacity="0.8" stroke="#3fb9d6" stroke-opacity="0.7" stroke-width="0.7"/>
<circle cx="899.8" cy="504.2" r="2.4" fill="#2ba6c4" fill-opacity="0.8" stroke="#3fb9d6" stroke-opacity="0.7" stroke-width="0.7"/>
</g>
<rect x="802.9" y="569" width="3.8" height="4.1" fill="#f25022"/><rect x="807.4" y="569" width="3.8" height="4.1" fill="#7fba00"/><rect x="802.9" y="573.8" width="3.8" height="4.1" fill="#00a4ef"/><rect x="807.4" y="573.8" width="3.8" height="4.1" fill="#ffb900"/>
<text x="813.6" y="576.4" font-size="8" fill="#ececec" textLength="44" lengthAdjust="spacingAndGlyphs">Microsoft Bing</text>
<text x="897" y="579.6" font-size="8.2" font-weight="bold" fill="#fff" stroke="#000" stroke-width="1.6" paint-order="stroke" textLength="100.8" lengthAdjust="spacingAndGlyphs">© 2025 Microsoft Corporation</text>
<text x="1004.4" y="579.4" font-size="7.9" fill="#2f42b2" stroke="#fff" stroke-width="1.6" paint-order="stroke" textLength="19.6" lengthAdjust="spacingAndGlyphs" text-decoration="underline">Terms</text>
</g>
</svg></body></html>
